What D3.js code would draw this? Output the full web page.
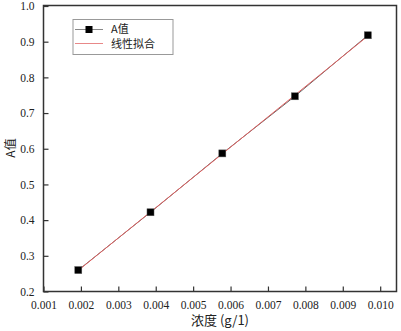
<!DOCTYPE html>
<html><head><meta charset="utf-8">
<script src="https://cdn.jsdelivr.net/npm/d3@7"></script>
<style>body{margin:0;background:#fff}svg{display:block}</style>
</head><body><svg id="c" width="401" height="331"></svg>
<script>
const concentration = [0.00193, 0.00386, 0.00578, 0.00772, 0.00967];
const aValues = [0.260, 0.422, 0.587, 0.747, 0.918];
const xTicks = [0.001,0.002,0.003,0.004,0.005,0.006,0.007,0.008,0.009,0.010];
const yTicks = [0.2,0.3,0.4,0.5,0.6,0.7,0.8,0.9,1.0];
const seriesNames = ["A值","线性拟合"];
const xTitle = "浓度 (g/1)", yTitle = "A值";

const svg = d3.select("#c");
const L=43.5, R=396.5, T=5.5, B=291.5;
const x = d3.scaleLinear().domain([0.001, 0.010436]).range([L,R]);
const y = d3.scaleLinear().domain([0.2,1.0]).range([B,6]);
const numFont = "'Liberation Serif', 'DejaVu Serif', serif";
const cjk = "'Noto Sans CJK SC', sans-serif";

// linear fit
const n=concentration.length, mx=d3.mean(concentration), my=d3.mean(aValues);
let sxy=0,sxx=0; for(let i=0;i<n;i++){sxy+=(concentration[i]-mx)*(aValues[i]-my);sxx+=(concentration[i]-mx)**2;}
const slope=sxy/sxx, icpt=my-slope*mx;

// axes
const xa = svg.append("g").attr("transform",`translate(0,${B})`)
  .call(d3.axisBottom(x).tickValues(xTicks).tickSizeInner(-5).tickSizeOuter(0).tickPadding(9).tickFormat(d3.format(".3f")));
const ya = svg.append("g").attr("transform",`translate(${L},0)`)
  .call(d3.axisLeft(y).tickValues(yTicks).tickSizeInner(-5).tickSizeOuter(0).tickPadding(9).tickFormat(d3.format(".1f")));
[xa,ya].forEach(a=>{a.attr("font-family",null).attr("font-size",null);
  a.select(".domain").remove();a.selectAll("line").attr("stroke","#333").attr("stroke-width",1.2);
  a.selectAll("text").style("font-family",numFont).style("font-size","11.5px").attr("fill","#222");});
svg.append("rect").attr("x",L).attr("y",T).attr("width",R-L).attr("height",B-T)
  .attr("fill","none").attr("stroke","#333").attr("stroke-width",1.5);

// data line
svg.append("path").datum(concentration.map((c,i)=>[c,aValues[i]]))
  .attr("d",d3.line().x(d=>x(d[0])).y(d=>y(d[1])))
  .attr("fill","none").attr("stroke","#666").attr("stroke-width",1);
// fit line
const fx=[concentration[0],concentration[n-1]];
svg.append("path").datum(fx.map(c=>[c,icpt+slope*c]))
  .attr("d",d3.line().x(d=>x(d[0])).y(d=>y(d[1])))
  .attr("fill","none").attr("stroke","#e06060").attr("stroke-width",1);
// markers
svg.selectAll("rect.m").data(concentration).enter().append("rect").attr("class","m")
  .attr("x",(d)=>x(d)-3.5).attr("y",(d,i)=>y(aValues[i])-3.5).attr("width",7).attr("height",7)
  .attr("fill","#000").attr("stroke","#555").attr("stroke-width",0.5);

// legend
const lg=svg.append("g");
lg.append("rect").attr("x",73).attr("y",19.5).attr("width",100).attr("height",35)
  .attr("fill","#fff").attr("stroke","#999").attr("stroke-width",1);
lg.append("line").attr("x1",75).attr("x2",103).attr("y1",29.5).attr("y2",29.5).attr("stroke","#888").attr("stroke-width",1);
lg.append("rect").attr("x",85.5).attr("y",26).attr("width",7).attr("height",7).attr("fill","#000");
lg.append("line").attr("x1",75).attr("x2",103).attr("y1",43.5).attr("y2",43.5).attr("stroke","#e88888").attr("stroke-width",1);
lg.selectAll("text").data(seriesNames).enter().append("text")
  .attr("x",111).attr("y",(d,i)=>29 + i*15).attr("dy","0.35em")
  .style("font-family",cjk).style("font-size","11px").attr("fill","#222").text(d=>d);

// titles
svg.append("text").attr("x",220).attr("y",325).attr("text-anchor","middle")
  .style("font-family",cjk).style("font-size","13px").attr("fill","#222").text(xTitle);
svg.append("text").attr("transform","translate(10.5,148) rotate(-90)").attr("text-anchor","middle").attr("dy","0.35em")
  .style("font-family",cjk).style("font-size","12px").attr("fill","#222").text(yTitle);
</script></body></html>
